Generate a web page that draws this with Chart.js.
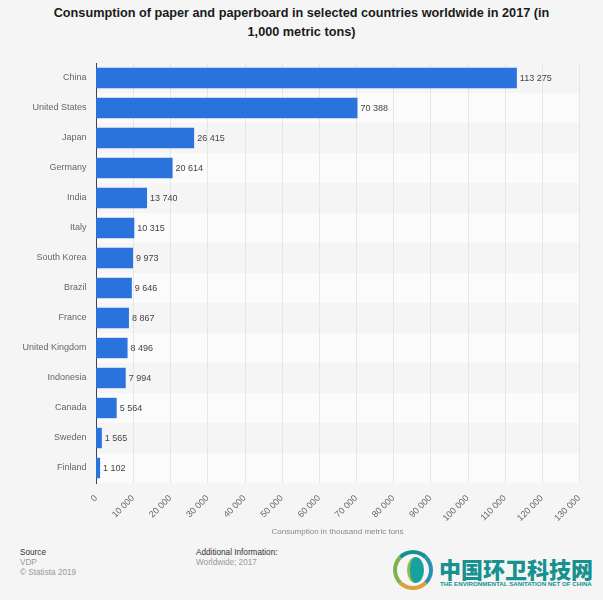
<!DOCTYPE html>
<html lang="en">
<head>
  <meta charset="UTF-8">
  <title>Consumption of paper and paperboard</title>
  <script src="https://cdn.jsdelivr.net/npm/chart.js"></script>
  <style>
    body {
      margin: 0;
      width: 603px;
      height: 600px;
      overflow: hidden;
      position: relative;
      background-color: #f5f5f5;
      font-family: "Liberation Sans", Arial, sans-serif;
    }

    h1 {
      position: absolute;
      left: 30px;
      top: 4px;
      width: 543px;
      margin: 0;
      text-align: center;
      font-size: 12.7px;
      line-height: 19px;
      color: #1a1a1a;
    }

    #wrap {
      position: absolute;
      left: 0;
      top: 50px;
      width: 603px;
      height: 490px;
    }

    .note {
      position: absolute;
      font-size: 8.2px;
      line-height: 10px;
      color: #999;
    }

    .note b {
      font-weight: normal;
      color: #333;
    }

    .logo-cn {
      position: absolute;
      left: 439px;
      top: 555px;
      font-family: "Noto Sans CJK SC";
      font-weight: 900;
      font-size: 22px;
      line-height: 26px;
      color: #16918f;
      white-space: nowrap;
    }

    .logo-en {
      position: absolute;
      left: 440px;
      top: 580px;
      font-weight: bold;
      font-size: 6.2px;
      line-height: 8px;
      color: #16918f;
      white-space: nowrap;
    }

    .logo-ring {
      position: absolute;
      left: 393px;
      top: 550px;
      width: 32px;
      height: 32px;
      border: 4px solid #7fb24a;
      border-top-color: #16918f;
      border-right-color: #2a8fb0;
      border-bottom-color: #d9a23a;
      border-radius: 50%;
    }

    .logo-hoja {
      position: absolute;
      left: 407px;
      top: 557px;
      width: 14px;
      height: 26px;
      border-radius: 50%;
      background: #16a0a0;
      border-left: 3px solid #8dbb4e;
    }
  </style>
</head>
<body>

  <h1>Consumption of paper and paperboard in selected countries worldwide in 2017 (in<br>1,000 metric tons)</h1>

  <div id="wrap"><canvas id="grafico" width="603" height="490"></canvas></div>

  <div class="note" style="left:20px;top:548px"><b>Source</b><br>VDP<br>© Statista 2019</div>
  <div class="note" style="left:196px;top:548px"><b>Additional Information:</b><br>Worldwide; 2017</div>

  <div class="logo-ring"></div>
  <div class="logo-hoja"></div>
  <div class="logo-cn">中国环卫科技网</div>
  <div class="logo-en">THE ENVIRONMENTAL SANITATION NET OF CHINA</div>

  <script>
    const paises = ['China', 'United States', 'Japan', 'Germany', 'India', 'Italy', 'South Korea',
      'Brazil', 'France', 'United Kingdom', 'Indonesia', 'Canada', 'Sweden', 'Finland'];
    const valores = [113275, 70388, 26415, 20614, 13740, 10315, 9973, 9646, 8867, 8496, 7994, 5564, 1565, 1102];

    const formato = v => String(v).replace(/\B(?=(\d{3})+$)/g, ' ');

    // alternating row bands behind the bars
    const bandas = {
      id: 'bandas',
      beforeDatasetsDraw(chart) {
        const { ctx, chartArea: a } = chart;
        const alto = (a.bottom - a.top) / paises.length;
        ctx.save();
        paises.forEach((p, i) => {
          ctx.fillStyle = i % 2 === 0 ? '#f5f5f5' : '#fbfbfb';
          ctx.fillRect(a.left + 1, a.top + i * alto, a.right - a.left - 1, alto);
        });
        // vertical grid lines go above the bands
        const x = chart.scales.x;
        ctx.strokeStyle = '#e6e6e6';
        ctx.lineWidth = 1;
        x.ticks.forEach(t => {
          if (t.value === 0) return;
          const px = Math.round(x.getPixelForValue(t.value)) + 0.5;
          ctx.beginPath();
          ctx.moveTo(px, a.top);
          ctx.lineTo(px, a.bottom);
          ctx.stroke();
        });
        ctx.restore();
      }
    };

    // value labels at the end of each bar
    const etiquetas = {
      id: 'etiquetas',
      afterDatasetsDraw(chart) {
        const { ctx } = chart;
        ctx.save();
        ctx.font = '9px "Liberation Sans"';
        ctx.fillStyle = '#444';
        ctx.textBaseline = 'middle';
        chart.getDatasetMeta(0).data.forEach((bar, i) => {
          ctx.fillText(formato(valores[i]), bar.x + 3, bar.y + 0.5);
        });
        ctx.restore();
      }
    };

    new Chart(document.getElementById('grafico'), {
      type: 'bar',
      data: {
        labels: paises,
        datasets: [{
          data: valores,
          backgroundColor: '#2a72dc',
          categoryPercentage: 1,
          barPercentage: 0.68
        }]
      },
      options: {
        indexAxis: 'y',
        responsive: false,
        animation: false,
        layout: { padding: { top: 13, right: 24, left: 0, bottom: 0 } },
        plugins: { legend: { display: false }, tooltip: { enabled: false } },
        scales: {
          x: {
            min: 0,
            max: 130000,
            grid: { display: false },
            border: { display: false },
            afterFit(scale) { scale.height = 57; },
            ticks: {
              stepSize: 10000,
              autoSkip: false,
              maxRotation: 45,
              minRotation: 45,
              padding: 2,
              color: '#666',
              font: { family: 'Liberation Sans', size: 9 },
              callback: v => formato(v)
            },
            title: {
              display: true,
              text: 'Consumption in thousand metric tons',
              color: '#888',
              font: { family: 'Liberation Sans', size: 8 },
              padding: { top: 8, bottom: 3 }
            }
          },
          y: {
            afterFit(scale) { scale.width = 96; },
            grid: { display: false },
            border: { display: true, color: '#444', width: 1 },
            ticks: {
              autoSkip: false,
              padding: 1.5,
              color: '#666',
              font: { family: 'Liberation Sans', size: 9 }
            }
          }
        }
      },
      plugins: [bandas, etiquetas]
    });
  </script>

</body>
</html>
